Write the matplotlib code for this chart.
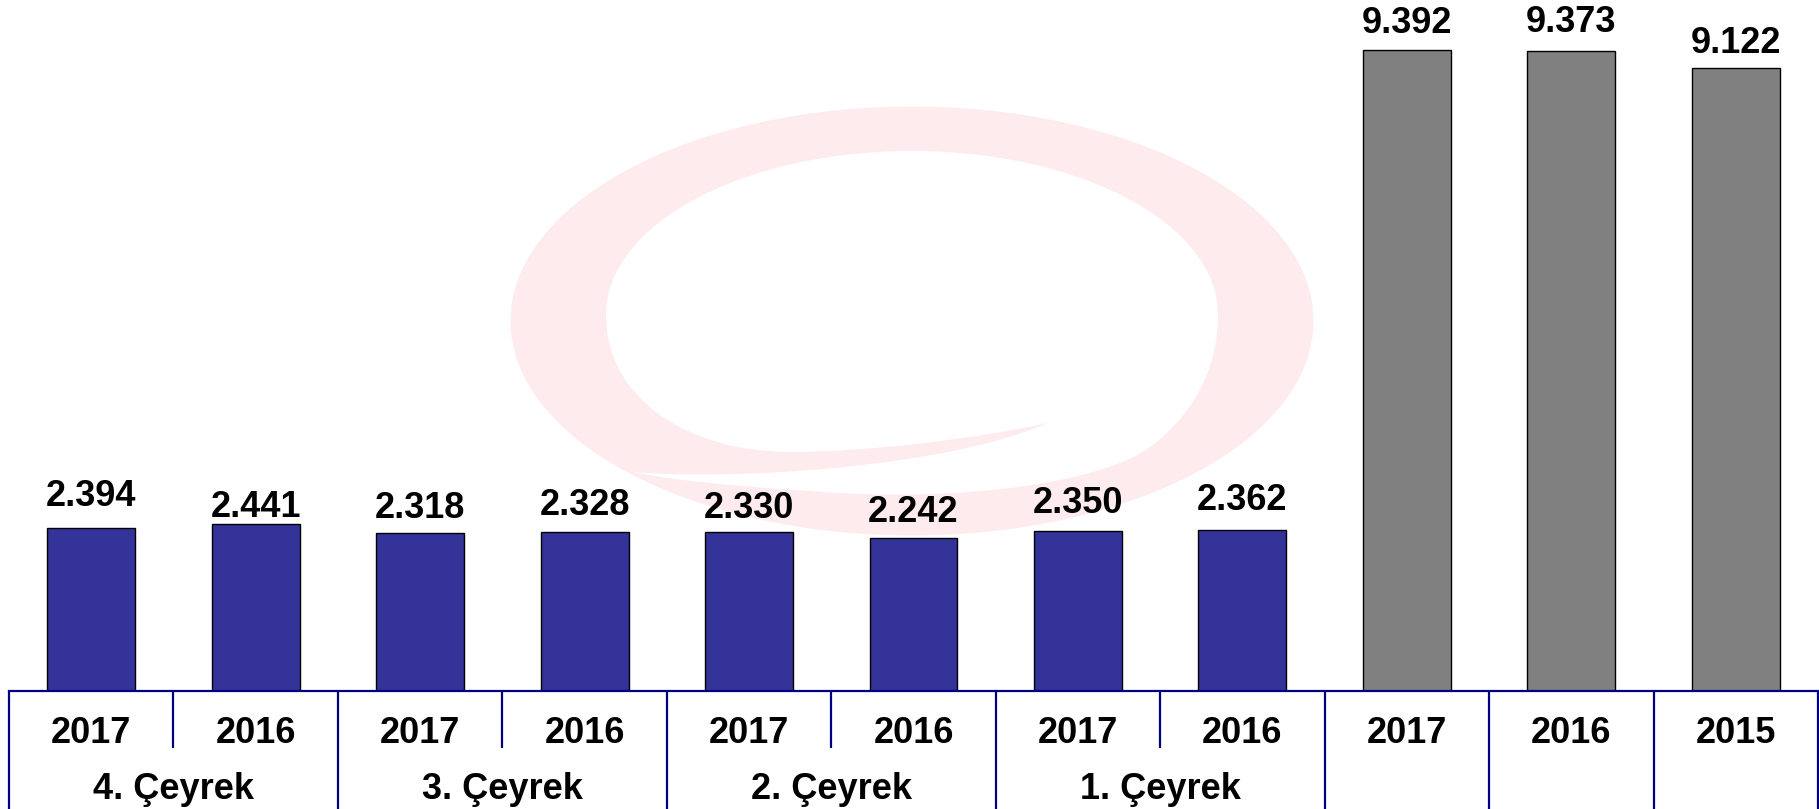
import numpy as np
import matplotlib
matplotlib.use("Agg")
import matplotlib.pyplot as plt
from matplotlib.patches import Ellipse, PathPatch
from matplotlib.path import Path
from matplotlib.transforms import blended_transform_factory

# ---------- data ----------
years = ["2017", "2016", "2017", "2016", "2017", "2016", "2017", "2016",
         "2017", "2016", "2015"]
values = [2394, 2441, 2318, 2328, 2330, 2242, 2350, 2362, 9392, 9373, 9122]
quarters = ["4. Çeyrek", "3. Çeyrek", "2. Çeyrek", "1. Çeyrek"]
n_quarterly = 8          # first 8 bars are quarters, the rest whole years
# gap (px) between bar top and its label, the source places them by hand
label_gap = [22, 7, 15, 17, 14, 16, 18, 20, 17, 19, 15]

# ---------- style ----------
W, H = 1819, 809
BLUE = "#333399"
GREY = "#808080"
NAVY = "#000080"
PINK = "#fdebed"
FONT = dict(family="Liberation Sans", weight="bold", size=26, color="black")

fig = plt.figure(figsize=(W / 100, H / 100), dpi=100)

# watermark (background swirl logo), drawn in pixel space
wm = fig.add_axes([0, 0, 1, 1], zorder=0)
wm.set_xlim(0, W)
wm.set_ylim(H, 0)
wm.axis("off")
wm.add_patch(Ellipse((912, 321), 803, 429, color=PINK, lw=0))
C4 = Path.CURVE4
hole_pts = [
    (606, 315),
    (606, 224), (743, 151), (912, 151),        # top left
    (1081, 151), (1218, 224), (1218, 315),     # top right
    (1218, 360), (1200, 410), (1150, 447),     # lower right
    (1100, 484), (960, 500), (840, 493),       # under the tail
    (720, 486), (660, 478), (634, 472),        # gap tip
    (720, 480), (940, 470), (1048, 423),       # back to tail tip
    (980, 438), (870, 452), (790, 452),        # hole bottom
    (690, 452), (606, 400), (606, 315),        # up to the left
]
hole_codes = [Path.MOVETO] + [C4] * (len(hole_pts) - 1)
wm.add_patch(PathPatch(Path(hole_pts, hole_codes), color="white", lw=0))

# main axes
base_px = 691
ax = fig.add_axes([9 / W, (H - base_px) / H, (1818 - 9) / W, base_px / H], zorder=1)
ax.patch.set_alpha(0)
x = np.arange(len(values))
colors = [BLUE if i < n_quarterly else GREY for i in x]
bars = ax.bar(x, values, width=0.535, color=colors, edgecolor="black",
              linewidth=1.0, zorder=3)
ax.set_xlim(-0.5, len(values) - 0.5)
ax.set_ylim(0, 10120)
for s in ax.spines.values():
    s.set_visible(False)
ax.set_xticks([])
ax.set_yticks([])

for b, v, g in zip(bars, values, label_gap):
    ax.annotate(f"{v:,}".replace(",", "."), (b.get_x() + b.get_width() / 2, v),
                xytext=(0, g), textcoords="offset pixels",
                ha="center", va="baseline", **FONT)

# category axis: baseline, separators, labels
ax.axhline(0, color=NAVY, lw=1.6, clip_on=False, zorder=4)
tr = blended_transform_factory(ax.transData, fig.transFigure)
y_base = (H - base_px) / H
for i in range(len(values) + 1):
    short = i < n_quarterly and i % 2 == 1
    y_end = (H - 748) / H if short else 0
    ax.plot([i - 0.5, i - 0.5], [y_base, y_end], transform=tr, color=NAVY,
            lw=1.6, clip_on=False, solid_capstyle="butt")

for i, yr in enumerate(years):
    ax.text(i, (H - 743) / H, yr, transform=tr, ha="center", va="baseline", **FONT)
for j, q in enumerate(quarters):
    ax.text(2 * j + 0.5, (H - 799) / H, q, transform=tr, ha="center",
            va="baseline", **FONT)

fig.savefig("out.png", dpi=100)
